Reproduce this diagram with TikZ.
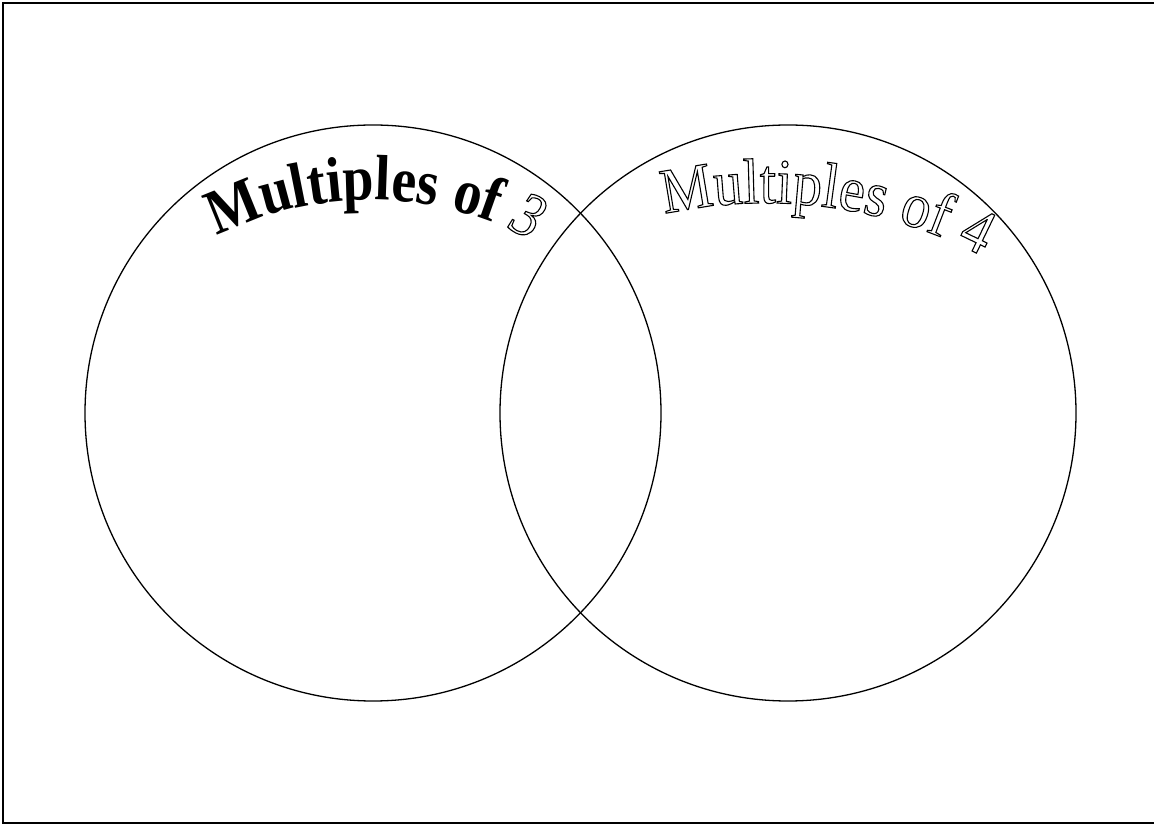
\documentclass[tikz,border=0pt]{standalone}
\usepackage{fontspec}
\setmainfont{Liberation Serif}
\newfontfamily\lblfont[FakeStretch=0.87]{Liberation Serif}
\newfontfamily\lblfontb[FakeStretch=0.9]{Liberation Serif}
\usetikzlibrary{decorations.text}
\protected\def\olon{\special{pdf:literal direct 1 Tr 1.1 w}}
\begin{document}
\begin{tikzpicture}[x=1pt,y=1pt,
  ring/.style={circle,draw,line width=1.3pt,minimum size=576pt,inner sep=0pt},
  frame/.style={draw,line width=2pt},
  arclabel/.style={decorate,decoration={text along path,text align=center,text={#1}}}]
\useasboundingbox (0,0) rectangle (1154,825);
\draw[frame] (2.5,2) rectangle (1160,821.5);
\node[ring] (A) at (373,412) {};
\node[ring] (B) at (788,412) {};
\coordinate (c1) at (370,280);
\coordinate (c2) at (766,156);
\path[arclabel={|\lblfont\fontsize{64}{66}\selectfont\bfseries|Multiples of {\olon\mdseries\itshape 3}}]
  (c1) ++(124.2:345pt) arc[start angle=124.2,end angle=54.2,radius=345pt];
\path[arclabel={|\lblfontb\fontsize{64}{66}\selectfont|{\olon M}{\olon u}{\olon l}{\olon t}{\olon i}{\olon p}{\olon l}{\olon e}{\olon s} {\olon o}{\olon f} {\olon 4}}]
  (c2) ++(110:466pt) arc[start angle=110,end angle=55,radius=466pt];
\end{tikzpicture}
\end{document}
